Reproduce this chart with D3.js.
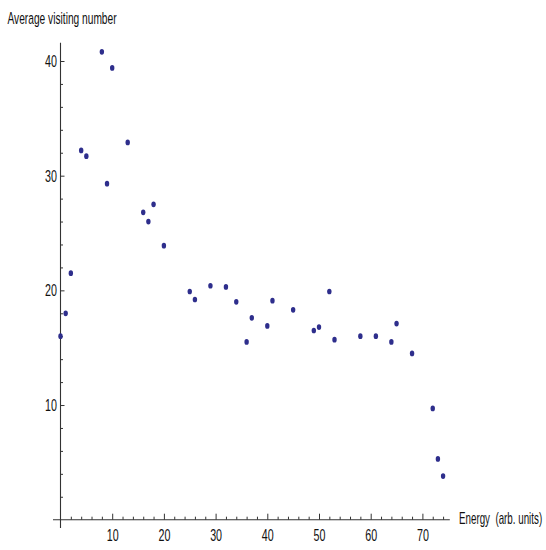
<!DOCTYPE html>
<html>
<head>
<meta charset="utf-8">
<script src="https://cdn.jsdelivr.net/npm/d3@7"></script>
<style>
  html, body { margin: 0; padding: 0; background: #fff; }
  svg text { font-family: "Liberation Sans", Arial, sans-serif; fill: #111; }
</style>
</head>
<body>
<svg id="chart" width="546" height="550"></svg>
<script>
// Data
const energy = [0, 1, 2, 4, 5, 8, 9, 10, 13, 16, 17, 18, 20, 25, 26, 29, 32, 34, 36, 37, 40, 41, 45, 49, 50, 52, 53, 58, 61, 64, 65, 68, 72, 73, 74];
const visits = [16.0, 18.0, 21.5, 32.2, 31.7, 40.8, 29.3, 39.4, 32.9, 26.8, 26.0, 27.5, 23.9, 19.9, 19.2, 20.4, 20.3, 19.0, 15.5, 17.6, 16.9, 19.1, 18.3, 16.5, 16.8, 19.9, 15.7, 16.0, 16.0, 15.5, 17.1, 14.5, 9.7, 5.3, 3.8];
const xMajorTicks = [10, 20, 30, 40, 50, 60, 70];
const xMinorTicks = [2, 4, 6, 8, 12, 14, 16, 18, 22, 24, 26, 28, 32, 34, 36, 38, 42, 44, 46, 48, 52, 54, 56, 58, 62, 64, 66, 68, 72, 74];
const yMajorTicks = [10, 20, 30, 40];
const yMinorTicks = [2, 4, 6, 8, 12, 14, 16, 18, 22, 24, 26, 28, 32, 34, 36, 38];
const xLabel = "Energy  (arb. units)";
const yLabel = "Average visiting number";

const svg = d3.select("#chart");
const x = d3.scaleLinear().domain([0, 70]).range([60.5, 422.4]);
const y = d3.scaleLinear().domain([0, 40]).range([519.7, 61]);
const axisColor = "#333";
const sx = 0.63;

// axis lines
svg.append("line")
  .attr("x1", x(-1.45)).attr("x2", x(75.3))
  .attr("y1", y(0)).attr("y2", y(0))
  .attr("stroke", axisColor).attr("stroke-width", 1.1);
svg.append("line")
  .attr("x1", x(0)).attr("x2", x(0))
  .attr("y1", y(-0.72)).attr("y2", y(41.6))
  .attr("stroke", axisColor).attr("stroke-width", 1.1);

function styleAxis(g) {
  g.select(".domain").remove();
  g.selectAll("line").attr("stroke", axisColor).attr("stroke-width", 1);
}

// x axis
const gx = svg.append("g").attr("transform", `translate(0,${y(0)})`);
gx.call(d3.axisBottom(x).tickValues(xMajorTicks).tickSize(-6).tickPadding(9).tickFormat(d3.format("d")))
  .call(styleAxis);
gx.selectAll("text").attr("font-size", 17).attr("fill", "#111")
  .attr("font-family", "Liberation Sans, Arial, sans-serif")
  .attr("transform", `scale(${sx},1)`);
svg.append("g").attr("transform", `translate(0,${y(0)})`)
  .call(d3.axisBottom(x).tickValues(xMinorTicks).tickSize(-3).tickFormat(""))
  .call(styleAxis);

// y axis
const gy = svg.append("g").attr("transform", `translate(${x(0)},0)`);
gy.call(d3.axisLeft(y).tickValues(yMajorTicks).tickSize(-4).tickPadding(4).tickFormat(d3.format("d")))
  .call(styleAxis);
gy.selectAll("text").attr("font-size", 17).attr("fill", "#111")
  .attr("font-family", "Liberation Sans, Arial, sans-serif")
  .attr("transform", `translate(-1,0) scale(${sx},1)`);
svg.append("g").attr("transform", `translate(${x(0)},0)`)
  .call(d3.axisLeft(y).tickValues(yMinorTicks).tickSize(-2.5).tickFormat(""))
  .call(styleAxis);

// axis labels
svg.append("g").attr("transform", `translate(7.5,24) scale(0.6,1)`)
  .append("text").attr("font-size", 17).text(yLabel);
svg.append("g").attr("transform", `translate(459,523.5) scale(0.6,1)`)
  .append("text").attr("font-size", 16.3).style("white-space", "pre").text(xLabel);

// points
const data = energy.map((e, i) => ({ e, v: visits[i] }));
svg.append("g").selectAll("ellipse").data(data).join("ellipse")
  .attr("cx", d => x(d.e))
  .attr("cy", d => y(d.v))
  .attr("rx", 2.2)
  .attr("ry", 2.85)
  .attr("fill", "#2e2e8c");
</script>
</body>
</html>
